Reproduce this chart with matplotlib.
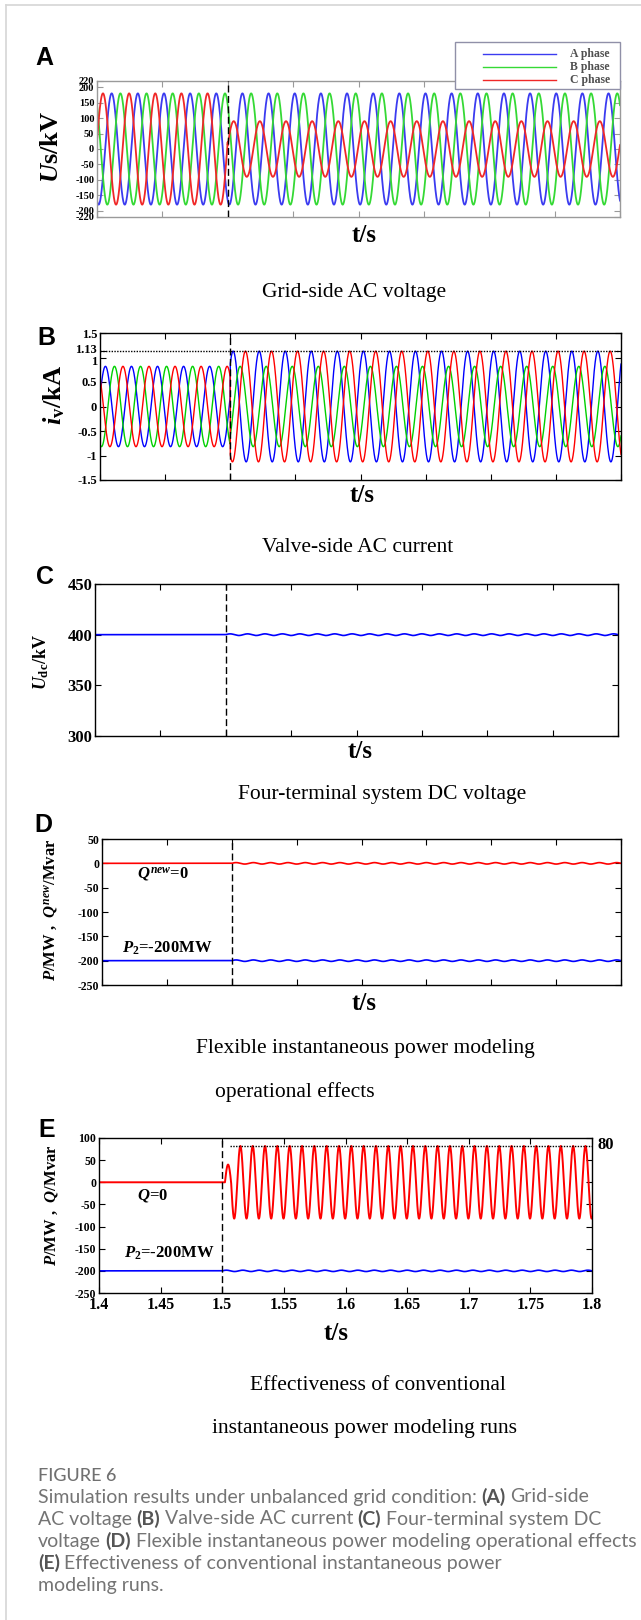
import numpy as np
import matplotlib
matplotlib.use("Agg")
import matplotlib.pyplot as plt
import matplotlib.transforms as mtrans
from matplotlib.lines import Line2D
from matplotlib.patches import Rectangle

W, H = 641, 1620

# time axis of all panels (s)
t_start, t_fault, t_end = 1.4, 1.5, 1.8
t_ticks = [1.4, 1.45, 1.5, 1.55, 1.6, 1.65, 1.7, 1.75, 1.8]
t_tick_labels = ["1.4", "1.45", "1.5", "1.55", "1.6", "1.65", "1.7", "1.75", "1.8"]
f_grid = 50

# (A) grid-side AC voltage, kV  (order: A, B, C phase)
phase_names = ["A phase", "B phase", "C phase"]
us_amp_pre = [180, 180, 180]
us_amp_post = [180, 180, 90]
us_phase = [248, 128, 8]          # deg at t = 1.4 / 1.5
us_ticks = [220, 200, 150, 100, 50, 0, -50, -100, -150, -200, -220]

# (B) valve-side AC current, kA
iv_amp_pre = [0.82, 0.82, 0.82]
iv_amp_post = [1.13, 0.82, 1.13]
iv_phase_pre = [15, -110, 133]
iv_phase_post = [50, -47, -120]
iv_peak = 1.13
iv_ticks = [1.5, 1.13, 1, 0.5, 0, -0.5, -1, -1.5]
iv_tick_labels = ["1.5", "1.13", "1", "0.5", "0", "-0.5", "-1", "-1.5"]

# (C) DC voltage, kV
udc_level = 400
udc_ripple = 0.8
udc_ticks = [300, 350, 400, 450]

# (D) flexible power model
d_q_level = 0
d_p_level = -200
d_ripple = 1.5
d_ticks = [50, 0, -50, -100, -150, -200, -250]

# (E) conventional power model
e_q_level = 0
e_q_bump = 40
e_q_amp = 82
e_q_freq = 100
e_q_delay = 0.0022
e_q_mark_start = 1.506
e_p_level = -200
e_ripple = 1.5
e_ticks = [100, 50, 0, -50, -100, -150, -200, -250]

ripple_freq = 75

plt.rcParams.update({
    "font.family": "Liberation Serif",
    "font.weight": "bold",
    "mathtext.fontset": "custom",
    "mathtext.rm": "Liberation Serif:bold",
    "mathtext.it": "Liberation Serif:italic:bold",
    "mathtext.bf": "Liberation Serif:bold",
})


def rect(x0, y0, x1, y1):
    return [x0 / W, 1 - y1 / H, (x1 - x0) / W, (y1 - y0) / H]


def fxy(x, y):
    return x / W, 1 - y / H


def three_phase(t, amp_pre, amp_post, ph_pre, ph_post):
    waves = []
    for a0, a1, p0, p1 in zip(amp_pre, amp_post, ph_pre, ph_post):
        w0 = a0 * np.sin(2 * np.pi * f_grid * (t - t_start) + np.deg2rad(p0))
        w1 = a1 * np.sin(2 * np.pi * f_grid * (t - t_fault) + np.deg2rad(p1))
        waves.append(np.where(t < t_fault, w0, w1))
    return waves


def ripple(t, level, amp):
    r = amp * np.sin(2 * np.pi * ripple_freq * (t - t_fault))
    return np.where(t < t_fault, level, level + r)


def style(ax, yticks, ylim, fs, frame="black", ylabels=None):
    ax.set_xlim(t_start, t_end)
    ax.set_ylim(*ylim)
    ax.set_xticks(t_ticks)
    ax.set_xticklabels([])
    ax.set_yticks(yticks)
    ax.set_yticklabels(ylabels if ylabels else [str(v) for v in yticks])
    ax.tick_params(direction="in", top=True, right=True, length=4, width=0.8,
                   labelsize=fs, pad=2, colors=frame, labelcolor="black")
    for s in ax.spines.values():
        s.set_color(frame)
        s.set_linewidth(1.0)
    ax.axvline(t_fault, color="black", lw=1.0, dashes=(5, 2.5), zorder=5)


fig = plt.figure(figsize=(W / 100, H / 100), dpi=100)
t = np.linspace(t_start, t_end, 8001)

# page frame
fig.add_artist(Line2D([6 / W, 1], [1 - 5 / H, 1 - 5 / H], transform=fig.transFigure, color="#d6d6d6", lw=1.2))
fig.add_artist(Line2D([6 / W, 6 / W], [0, 1 - 5 / H], transform=fig.transFigure, color="#d6d6d6", lw=1.2))

# ---- A ----
axA = fig.add_axes(rect(97, 81, 620, 217))
colors_A = ["#3b3bf0", "#35d935", "#f02828"]
for w, c in zip(three_phase(t, us_amp_pre, us_amp_post, us_phase, us_phase), colors_A):
    axA.plot(t, w, color=c, lw=1.3)
style(axA, us_ticks, (-220, 220), 7.5, frame="#9a9a9a")
fig.text(*fxy(51, 147), "$U$s/kV", rotation=90, ha="center", va="center", fontsize=19)

fig.add_artist(Rectangle(fxy(455, 89), 165 / W, 47 / H, transform=fig.transFigure,
                         fc="white", ec="#9090a8", lw=1.0, zorder=10))
for i, (name, c) in enumerate(zip(phase_names, colors_A)):
    y = 54 + 13 * i
    fig.add_artist(Line2D([483 / W, 556 / W], [1 - y / H] * 2, transform=fig.transFigure,
                          color=c, lw=1.0, zorder=11))
    fig.text(*fxy(590, y), name, ha="center", va="center", fontsize=8.5, color="#505050", zorder=12)

# ---- B ----
axB = fig.add_axes(rect(100, 333, 621, 480))
colors = ["#0000ff", "#00d000", "#ff0000"]
for w, c in zip(three_phase(t, iv_amp_pre, iv_amp_post, iv_phase_pre, iv_phase_post), colors):
    axB.plot(t, w, color=c, lw=1.0)
style(axB, iv_ticks, (-1.5, 1.5), 9, ylabels=iv_tick_labels)
# 1.13 and 1 sit very close: nudge the two labels apart a little
lbls = axB.get_yticklabels()
lbls[1].set_transform(lbls[1].get_transform() + mtrans.ScaledTranslation(0, 2 / 72, fig.dpi_scale_trans))
lbls[2].set_transform(lbls[2].get_transform() + mtrans.ScaledTranslation(0, -2.5 / 72, fig.dpi_scale_trans))
axB.axhline(iv_peak, color="black", lw=1.0, ls=(0, (1, 1)))
fig.text(*fxy(54, 395), r"$i_{\rm v}$/kA", rotation=90, ha="center", va="center", fontsize=19)

# ---- C ----
axC = fig.add_axes(rect(95, 584, 618, 736))
axC.plot(t, ripple(t, udc_level, udc_ripple), color="#0000ff", lw=1.2)
style(axC, udc_ticks, (300, 450), 12)
fig.text(*fxy(41, 662), r"$U_{\rm dc}$/kV", rotation=90, ha="center", va="center", fontsize=13)

# ---- D ----
axD = fig.add_axes(rect(102, 839, 621, 985))
axD.plot(t, ripple(t, d_q_level, d_ripple), color="#ff0000", lw=1.2)
axD.plot(t, ripple(t, d_p_level, d_ripple), color="#0000ff", lw=1.2)
style(axD, d_ticks, (-250, 50), 8.5)
fig.text(*fxy(52, 910), "$P$/MW ,  $Q^{new}$/Mvar", rotation=90, ha="center", va="center", fontsize=12)
fig.text(*fxy(137, 875), "$Q^{new}$=0", ha="left", va="center", fontsize=12)
fig.text(*fxy(122, 948), "$P_2$=-200MW", ha="left", va="center", fontsize=12)

# ---- E ----
axE = fig.add_axes(rect(99, 1138, 592, 1293))
tq = t - t_fault - e_q_delay
env = np.where(tq < 1 / (2 * e_q_freq), e_q_bump, e_q_amp)
q = np.where(tq < 0, e_q_level, env * np.sin(2 * np.pi * e_q_freq * tq))
axE.plot(t, q, color="#ff0000", lw=1.4)
axE.plot(t, ripple(t, e_p_level, e_ripple), color="#0000ff", lw=1.2)
style(axE, e_ticks, (-250, 100), 8.5)
axE.set_xticklabels(t_tick_labels, fontsize=11.5)
axE.tick_params(axis="x", pad=3)
axE.hlines(e_q_amp, e_q_mark_start, t_end, color="black", lw=1.0, ls=(0, (1, 1)))
fig.text(*fxy(52, 1205), "$P$/MW ,  $Q$/Mvar", rotation=90, ha="center", va="center", fontsize=12)
fig.text(*fxy(137, 1195), "$Q$=0", ha="left", va="center", fontsize=12)
fig.text(*fxy(124, 1253), "$P_2$=-200MW", ha="left", va="center", fontsize=12)
fig.text(*fxy(606, 1145), "80", ha="center", va="center", fontsize=12)

# panel letters, axis titles, sub-captions
for letter, (x, y) in zip("ABCDE", [(44, 58), (46, 338), (45, 577), (43, 825), (47, 1130)]):
    fig.text(*fxy(x, y), letter, ha="center", va="center", fontsize=18,
             family="Liberation Sans", weight="bold")
for x, y in [(364, 235), (362, 495), (360, 752), (364, 1003), (336, 1333)]:
    fig.text(*fxy(x, y), "t/s", ha="center", va="center", fontsize=18)
subcaps = [
    ("Grid-side AC voltage", 354, 292),
    ("Valve-side AC current", 358, 547),
    ("Four-terminal system DC voltage", 382, 795),
    ("Flexible instantaneous power modeling", 365, 1049),
    ("operational effects", 295, 1092),
    ("Effectiveness of conventional", 378, 1386),
    ("instantaneous power modeling runs", 364, 1429),
]
for txt, x, y in subcaps:
    fig.text(*fxy(x, y), txt, ha="center", va="center", fontsize=15.5, weight="normal")

# figure caption
fig.text(*fxy(38, 1476), "FIGURE 6", ha="left", va="center", fontsize=13,
         family="Lato", weight="medium", color="#707070")
cap_lines = [
    (1497, [("Simulation results under unbalanced grid condition:", False), ("(A)", True), ("Grid-side", False)]),
    (1519, [("AC voltage", False), ("(B)", True), ("Valve-side AC current", False), ("(C)", True),
            ("Four-terminal system DC", False)]),
    (1541, [("voltage", False), ("(D)", True), ("Flexible instantaneous power modeling operational effects", False)]),
    (1563, [("(E)", True), ("Effectiveness of conventional instantaneous power", False)]),
    (1585, [("modeling runs.", False)]),
]
renderer = fig.canvas.get_renderer()
for y, parts in cap_lines:
    x = 38
    for txt, bold in parts:
        tt = fig.text(x / W, 1 - y / H, txt, ha="left", va="center", fontsize=14,
                      family="Lato", weight="bold" if bold else "normal",
                      color="#555555" if bold else "#747474")
        bb = tt.get_window_extent(renderer)
        x = bb.x1 + 4.5

fig.savefig("out.png", dpi=100)
